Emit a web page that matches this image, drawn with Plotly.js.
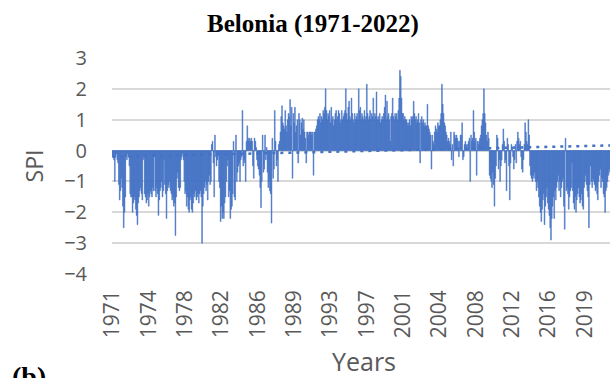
<!DOCTYPE html>
<html>
<head>
<meta charset="utf-8">
<script src="https://cdn.plot.ly/plotly-3.0.1.min.js"></script>
<style>
html, body { margin: 0; padding: 0; overflow: hidden; background: #fff; }
#chart { width: 620px; height: 378px; }
</style>
</head>
<body>
<div id="chart"></div>
<script>
// Monthly SPI values, Belonia, Jan 1971 - Dec 2022
const startYear = 1971;
const endYear = 2022;
const spi = [
  -0.2, -0.2, -0.3, -1.0, -0.2, -0.1, -0.3, -0.4, -1.1, -1.6, -1.3, -0.9,   // 1971
  -1.2, -1.8, -2.5, -2.0, -1.5, -0.2, -0.3, -0.1, -0.2, -0.5, -1.4, -1.5,   // 1972
  -1.5, -2.0, -1.7, -1.5, -1.6, -1.9, -2.1, -2.4, -1.7, -1.5, -1.3, -1.2,   // 1973
  -1.4, -1.6, -0.3, -0.2, -1.4, -1.5, -1.7, -1.6, -1.4, -1.8, -1.5, -1.3,   // 1974
  -1.4, -1.5, -1.2, -1.3, -0.2, -1.3, -1.5, -1.2, -1.4, -2.1, -1.6, -1.3,   // 1975
  -1.2, -1.0, -1.5, -1.3, -0.3, -1.1, -1.4, -2.2, -1.3, -1.1, -1.2, -1.0,   // 1976
  -1.3, -1.4, -1.6, -1.5, -1.8, -1.7, -2.75, -1.5, -0.9, -0.7, -1.2, -1.3,  // 1977
  -1.2, -0.3, -0.2, -0.1, -0.3, -1.0, -1.4, -1.3, -1.8, -1.5, -1.9, -2.0,   // 1978
  -1.6, -1.5, -1.9, -2.0, -1.7, -1.4, -1.5, -1.3, -1.6, -1.5, -1.4, -1.7,   // 1979
  -1.4, -1.3, -1.5, -3.0, -1.8, -1.4, -1.2, -1.0, -1.3, -1.1, -1.6, -1.0,   // 1980
  -0.8, -1.1, -1.0, 0.2, 0.3, -0.4, -1.5, 0.5, -0.2, -0.5, -0.3, -0.1,      // 1981
  -1.0, -1.2, -2.3, -1.8, -2.2, -2.0, -2.2, -1.7, -1.5, -1.0, -0.5, -0.3,   // 1982
  -1.5, -1.3, -2.2, -1.9, -1.8, -1.4, 0.3, -1.5, -1.6, 0.5, -1.0, -0.7,     // 1983
  -0.5, -0.4, -1.0, -0.3, -0.2, 1.3, -0.5, -0.3, -0.4, -1.0, 0.3, 0.8,      // 1984
  0.4, 0.3, 0.4, 0.3, 0.4, 0.3, -0.5, -0.9, 0.4, 0.3, 0.1, -0.3,            // 1985
  -0.5, -0.6, -0.8, -1.2, -1.85, -1.0, 0.5, -0.7, -0.6, 0.5, -0.3, 0.1,     // 1986
  -0.7, -1.2, -1.0, -1.3, -1.4, -2.35, 0.4, -0.9, -0.6, 1.3, 0.3, -0.5,     // 1987
  -0.3, -1.0, 0.2, 0.3, 0.6, 1.1, 1.45, 0.9, 0.8, 0.7, 1.3, 0.8,            // 1988
  0.6, 1.0, 1.2, 1.1, 1.65, 0.8, 1.4, -0.9, 1.2, 0.9, 1.4, 0.6,             // 1989
  0.8, 1.0, -0.4, 1.2, 1.0, 0.5, 0.9, 1.05, 0.7, 1.0, 0.6, 0.4,             // 1990
  -0.4, 0.6, 0.6, 0.5, 0.6, 0.6, 0.6, 0.5, 0.6, -0.8, 0.6, 0.6,             // 1991
  0.7, 0.8, 1.0, 1.1, 1.0, 1.2, 0.9, 1.1, 1.0, 1.3, 1.2, 1.4,               // 1992
  2.0, 1.3, 1.0, 1.2, 1.1, 1.3, 0.9, 1.4, 1.0, 1.1, 0.8, 1.0,               // 1993
  1.2, 1.3, 1.0, 1.1, 1.3, 1.2, 0.9, 1.0, 1.3, 1.0, 1.1, 1.2,               // 1994
  1.3, 2.0, 1.2, 1.0, 1.4, 1.6, 1.1, 1.0, 1.7, 1.2, 1.0, 0.9,               // 1995
  1.2, 1.0, 1.1, 1.2, 1.0, 2.0, 1.3, 1.4, 1.0, 1.2, 1.1, 1.0,               // 1996
  1.3, 1.0, 1.1, 2.15, 1.2, 1.0, 1.1, 1.3, 1.0, 1.2, 1.1, 1.7,              // 1997
  1.0, 1.2, 1.1, 1.9, 1.0, 1.1, 1.0, 1.2, 0.9, 1.0, 1.1, 1.0,               // 1998
  1.2, 1.4, 1.8, 1.0, 1.6, 1.1, 1.2, 1.0, 0.3, 1.1, 1.2, 1.7,               // 1999
  1.1, 1.0, 1.2, 1.1, 1.2, 1.0, 1.3, 1.7, 2.6, 2.4, 1.7, 1.2,               // 2000
  1.2, 1.0, 1.1, 1.0, 1.0, 0.9, 0.8, 0.9, 1.0, 0.8, 1.1, 1.0,               // 2001
  1.1, 1.6, 1.2, 1.0, 1.1, 0.9, 1.0, 1.2, 0.9, -0.4, 1.0, 1.1,              // 2002
  0.9, 1.0, 0.8, 0.9, 0.8, 0.8, 1.5, 0.8, 0.7, 0.6, 0.5, -0.6,              // 2003
  0.5, 0.3, 0.2, 0.6, 0.8, 0.7, 0.6, 0.9, 0.8, 0.8, 1.0, 1.2,               // 2004
  2.15, 1.5, 1.2, 0.9, 0.8, 0.6, 0.5, 0.3, 0.4, 0.3, 0.2, 0.6,              // 2005
  -0.3, 0.2, -0.5, 0.6, 0.5, 0.4, 0.5, 0.4, 0.3, -0.2, 0.3, 0.5,            // 2006
  0.5, 0.9, -0.3, -0.2, 0.2, 0.3, 0.2, 0.1, 0.2, 0.3, 0.4, -1.0,            // 2007
  0.5, 0.3, 0.4, 1.3, 0.6, 0.3, 0.4, -0.8, 0.3, 0.2, 0.3, 0.4,              // 2008
  0.5, 0.8, 1.0, 1.2, 2.0, 1.2, 0.9, 0.5, 0.3, 0.6, 0.4, -0.8,              // 2009
  -0.9, -1.0, -1.2, -0.7, -1.1, -1.8, -0.9, -0.5, 0.5, 0.4, -0.6, -0.3,     // 2010
  -1.0, -0.5, -0.3, 0.2, 0.7, 0.3, -0.4, -0.3, -1.3, 0.4, 0.2, -0.5,        // 2011
  -1.6, -0.4, 0.2, 0.1, -0.2, -0.6, -0.3, 0.2, -0.4, 0.3, 0.6, 0.4,         // 2012
  0.2, 0.3, -0.2, -0.6, -0.7, -0.3, 0.2, 0.9, 0.6, 0.3, 0.2, 1.0,           // 2013
  0.5, -0.5, -0.8, -0.9, -1.0, -0.8, -0.9, -0.7, -1.0, -1.3, -1.0, -1.2,    // 2014
  -1.5, -1.8, -2.0, -2.3, -1.9, -1.6, -1.4, -2.4, -1.8, -1.5, -1.2, -1.7,   // 2015
  -1.9, -2.1, -2.5, -2.9, -2.2, -1.8, -1.5, -2.2, -1.3, -1.6, -1.2, -1.0,   // 2016
  -0.8, -1.3, -1.0, -1.5, -1.2, -1.0, -0.9, -1.8, -2.55, 0.4, -1.3, -1.2,   // 2017
  -1.4, -1.9, -1.5, -1.3, -1.2, -0.4, -1.3, -1.7, -1.9, -1.5, -2.0, -1.6,   // 2018
  -1.4, -1.2, -1.5, -1.7, -1.6, -1.4, -1.8, -1.9, -1.2, -1.0, -0.8, -1.1,   // 2019
  -1.3, -1.5, -2.5, -1.1, -0.5, -1.0, -1.2, -0.9, -1.0, -1.1, -1.3, -1.2,   // 2020
  -1.4, -1.6, -1.0, -0.8, -0.6, -1.2, -0.9, -1.0, -1.4, -1.5, -2.0, -1.3,   // 2021
  -1.2, -1.0, -0.8, -0.6, -0.7, -0.9, -1.1, -1.0, -0.8, -0.9, -1.2, -1.0    // 2022
];
// Linear trend line (dotted) values at the first and last month
const trendEnds = [-0.2, 0.17];
// Category label interval of the original axis (every 45 months)
const labelEvery = 45;
const titleText = 'Belonia (1971-2022)';
const yTitle = 'SPI';
const xTitle = 'Years';
const panelLabel = '(b)';

// Month categories: each month labelled by its year
const monthIndex = spi.map((_, i) => i);
const monthYear = spi.map((_, i) => String(startYear + Math.floor(i / 12)));
const tickvals = monthIndex.filter(i => i % labelEvery === 0);
const ticktext = tickvals.map(i => monthYear[i]);

const lastIdx = spi.length - 1;
const trendX = [0, lastIdx];

const blue = '#4472C4';
const tickGray = '#595959';

const traces = [
  {
    type: 'bar',
    x: monthIndex,
    y: spi,
    marker: { color: blue, line: { width: 0.5, color: blue } },
    hoverinfo: 'skip'
  },
  {
    type: 'scatter',
    mode: 'lines',
    x: trendX,
    y: trendEnds,
    line: { color: blue, width: 2.5, dash: '3px,5px' },
    hoverinfo: 'skip'
  }
];

const layout = {
  width: 620,
  height: 378,
  margin: { l: 112, r: 4, t: 57, b: 103 },
  paper_bgcolor: '#ffffff',
  plot_bgcolor: '#ffffff',
  showlegend: false,
  bargap: 0,
  title: {
    text: '<b>' + titleText + '</b>',
    font: { family: 'Liberation Serif, Times New Roman, serif', size: 25, color: '#000000' },
    xref: 'container', x: 313 / 620, xanchor: 'center',
    yref: 'container', y: 1 - 23 / 378, yanchor: 'middle'
  },
  xaxis: {
    range: [-0.5, lastIdx + 0.5],
    tickmode: 'array',
    tickvals: tickvals,
    ticktext: ticktext,
    tickangle: -90,
    ticks: '',
    ticklabelstandoff: 10,
    tickfont: { family: 'Open Sans, Lato, sans-serif', size: 21, color: tickGray },
    showgrid: false,
    zeroline: false,
    showline: false,
    title: {
      text: xTitle,
      standoff: 17,
      font: { family: 'Open Sans, Lato, sans-serif', size: 25, color: tickGray }
    },
    automargin: false
  },
  yaxis: {
    range: [-4.03, 3.03],
    tickmode: 'linear',
    tick0: -4,
    dtick: 1,
    ticks: '',
    ticklabelstandoff: 24,
    tickfont: { family: 'Open Sans, Lato, sans-serif', size: 20, color: tickGray },
    showgrid: true,
    gridcolor: '#d9d9d9',
    gridwidth: 2,
    zeroline: true,
    zerolinecolor: '#d9d9d9',
    zerolinewidth: 2,
    showline: false,
    title: {
      text: yTitle,
      standoff: 14,
      font: { family: 'Open Sans, Lato, sans-serif', size: 23, color: tickGray }
    },
    automargin: false
  },
  annotations: [
    {
      text: '<b>' + panelLabel + '</b>',
      xref: 'paper', yref: 'paper',
      x: (10 - 112) / 504, xanchor: 'left',
      y: (274 - 357) / 216, yanchor: 'top',
      showarrow: false,
      font: { family: 'Liberation Serif, Times New Roman, serif', size: 28, color: '#000000' }
    }
  ]
};

Plotly.newPlot('chart', traces, layout, { displayModeBar: false, staticPlot: true });
</script>
</body>
</html>
